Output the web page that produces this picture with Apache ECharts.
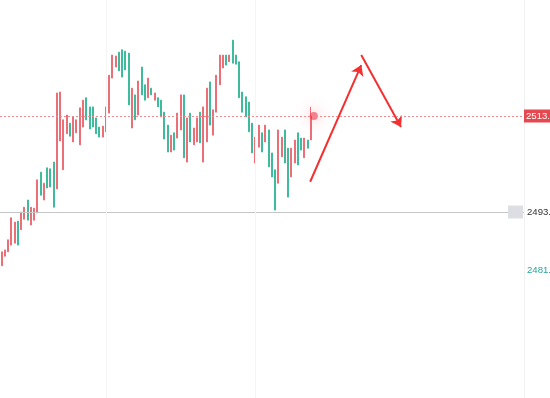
<!DOCTYPE html>
<html>
<head>
<meta charset="utf-8">
<script src="https://cdn.jsdelivr.net/npm/echarts@6/dist/echarts.min.js"></script>
<style>html,body{margin:0;padding:0;background:#fff;}#c{width:550px;height:398px;}</style>
</head>
<body>
<div id="c"></div>
<script>
// ---- data ----
const opens = [2481.8,2483.8,2484.7,2486.1,2486.5,2491.1,2489.3,2491.5,2495.5,2490.3,
  2491.3,2492.8,2501.3,2495.5,2502.2,2502.0,2503.4,2497.8,2507.8,2501.8,
  2509.3,2511.5,2507.6,2509.5,2507.0,2510.7,2516.8,2514.9,2514.9,2512.6,
  2510.7,2508.6,2509.7,2513.6,2520.9,2523.2,2526.3,2526.8,2526.5,2526.1,
  2510.5,2517.4,2513.2,2523.2,2519.5,2516.8,2518.8,2516.3,2516.8,2516.3,
  2513.8,2511.1,2505.5,2509.5,2508.4,2510.1,2517.4,2503.4,2513.6,2507.0,
  2507.6,2513.8,2503.4,2507.6,2520.1,2509.0,2513.8,2519.5,2523.0,2525.7,
  2524.3,2528.8,2525.7,2524.3,2518.0,2517.0,2515.9,2511.5,2503.2,2506.5,
  2509.5,2507.6,2510.1,2505.3,2501.8,2499.0,2504.5,2510.1,2506.3,2500.3,
  2503.2,2509.5,2508.4,2504.3,2508.0,2508.0];
const closes = [2484.7,2485.1,2487.2,2491.8,2490.9,2486.1,2493.0,2494.0,2491.3,2494.0,
  2493.8,2499.7,2496.5,2499.0,2498.0,2498.2,2494.0,2517.8,2518.0,2512.2,
  2513.2,2508.8,2512.8,2512.2,2514.7,2516.3,2512.2,2510.3,2510.7,2509.3,
  2508.6,2510.9,2514.9,2521.5,2525.7,2525.5,2522.4,2521.1,2522.6,2515.3,
  2518.8,2512.2,2520.3,2517.4,2516.3,2520.9,2517.4,2517.8,2514.9,2512.8,
  2508.2,2505.5,2509.0,2505.9,2513.6,2517.4,2504.3,2512.6,2507.6,2510.5,
  2512.6,2507.4,2514.9,2518.8,2511.1,2514.3,2521.5,2525.7,2525.7,2523.6,
  2525.7,2524.0,2523.8,2516.8,2513.8,2512.8,2509.7,2505.3,2508.6,2511.1,
  2505.5,2511.1,2502.4,2500.3,2493.4,2510.1,2508.6,2503.2,2496.1,2506.3,
  2508.0,2502.8,2505.9,2508.4,2506.3,2513.0];
const lows = [2481.8,2483.8,2484.7,2486.1,2486.5,2486.1,2489.3,2491.5,2491.3,2490.3,
  2491.3,2492.8,2496.5,2495.5,2498.0,2498.2,2494.0,2497.8,2507.8,2501.8,
  2509.3,2508.8,2507.6,2509.5,2507.0,2510.7,2512.2,2510.3,2510.7,2509.3,
  2508.6,2508.6,2509.7,2513.6,2520.9,2523.2,2522.4,2521.1,2522.6,2515.3,
  2510.5,2512.2,2513.2,2517.4,2516.3,2516.8,2517.4,2516.3,2514.9,2512.8,
  2508.2,2505.5,2505.5,2505.9,2508.4,2510.1,2504.3,2503.4,2507.6,2507.0,
  2507.6,2507.4,2503.4,2507.6,2511.1,2509.0,2513.8,2519.5,2523.0,2523.6,
  2524.3,2524.0,2523.8,2516.8,2513.8,2512.8,2509.7,2505.3,2503.2,2506.5,
  2505.5,2507.6,2502.4,2500.3,2493.4,2499.0,2504.5,2503.2,2496.1,2500.3,
  2503.2,2502.8,2505.9,2504.3,2506.3,2508.0];
const highs = [2484.7,2485.1,2487.2,2491.8,2490.9,2491.1,2493.0,2494.0,2495.5,2494.0,
  2493.8,2499.7,2501.3,2499.0,2502.2,2502.0,2503.4,2517.8,2518.0,2512.2,
  2513.2,2511.5,2512.8,2512.2,2514.7,2516.3,2516.8,2514.9,2514.9,2512.6,
  2510.7,2510.9,2514.9,2521.5,2525.7,2525.5,2526.3,2526.8,2526.5,2526.1,
  2518.8,2517.4,2520.3,2523.2,2519.5,2520.9,2518.8,2517.8,2516.8,2516.3,
  2513.8,2511.1,2509.0,2509.5,2513.6,2517.4,2517.4,2512.6,2513.6,2510.5,
  2512.6,2513.8,2514.9,2518.8,2520.1,2514.3,2521.5,2525.7,2525.7,2525.7,
  2525.7,2528.8,2525.7,2524.3,2518.0,2517.0,2515.9,2511.5,2508.6,2511.1,
  2509.5,2511.1,2510.1,2505.3,2501.8,2510.1,2508.6,2510.1,2506.3,2506.3,
  2508.0,2509.5,2508.4,2508.4,2508.0,2514.9];
const slotCount = 161;                 // visible candle slots on the time axis
const categories = Array.from({length: slotCount}, (_, i) => String(i + 1));
const lastPrice = 2513.0;
const levelGrey = 2493.0;
const levelLow = 2480.9;
const priceLabels = ['2513.00', '2493.00', '2481.00'];
const gridIndices = [32, 78];
const arrowUp = [[95.3, 2499.3], [111.0, 2523.6]];
const arrowDown = [[111.0, 2525.7], [123.2, 2510.7]];

// ---- chart ----
const RED = '#ec6f78', TEAL = '#3dbb9c';
const FONT = 'Liberation Sans';
const candles = opens.map((o, i) => [o, closes[i], lows[i], highs[i]]);
const chart = echarts.init(document.getElementById('c'), null, {renderer: 'canvas'});
chart.setOption({
  animation: false,
  backgroundColor: '#ffffff',
  grid: {left: -1, right: 26, top: 0, bottom: 0, containLabel: false},
  xAxis: [
    {type: 'category', data: categories, boundaryGap: true,
     axisLine: {show: false}, axisTick: {show: false}, axisLabel: {show: false}, splitLine: {show: false}},
    {type: 'value', min: 0, max: slotCount, show: false}
  ],
  yAxis: {
    type: 'value', position: 'right', min: 2454.25, max: 2537.1667, scale: true,
    axisLine: {show: true, onZero: false, lineStyle: {color: '#f1f1f1'}}, axisTick: {show: false},
    axisLabel: {show: false}, splitLine: {show: false}
  },
  series: [
    {
      type: 'candlestick', xAxisIndex: 0, data: candles, barWidth: 1.5,
      itemStyle: {color: RED, color0: TEAL, borderColor: RED, borderColor0: TEAL, borderWidth: 1},
      markLine: {
        silent: true, symbol: ['none', 'none'], animation: false,
        data: [
          {yAxis: lastPrice, lineStyle: {color: '#f08a8f', type: [2, 2], width: 1},
           label: {show: true, position: 'end', distance: 0, formatter: priceLabels[0], color: '#fff',
                   backgroundColor: '#e5484f', padding: [2, 2, 1, 2], fontSize: 9.6, fontFamily: FONT}},
          {yAxis: levelGrey,
           lineStyle: {color: '#c6c6c6', type: 'solid', width: 1},
           label: {show: true, position: 'end', distance: -16, formatter: '{b|}{t|' + priceLabels[1] + '}',
                   rich: {b: {width: 15, height: 13, backgroundColor: '#dcdee3'},
                          t: {color: '#333', fontSize: 9.6, fontFamily: FONT, padding: [0, 0, 0, 4]}}}},
          {yAxis: levelLow, lineStyle: {color: 'rgba(0,0,0,0)'},
           label: {show: true, position: 'end', distance: 3, formatter: priceLabels[2], color: '#26a69a',
                   fontSize: 9.6, fontFamily: FONT}},
          {xAxis: gridIndices[0], lineStyle: {color: '#f5f5f5', type: 'solid', width: 1}, label: {show: false}},
          {xAxis: gridIndices[1], lineStyle: {color: '#f5f5f5', type: 'solid', width: 1}, label: {show: false}}
        ]
      }
    },
    {
      type: 'scatter', xAxisIndex: 0, data: [[opens.length - 1, lastPrice]],
      symbolSize: 8, symbolOffset: [3, 0],
      itemStyle: {color: 'rgba(240,54,74,0.75)', shadowBlur: 14, shadowColor: 'rgba(240,54,74,0.9)'}
    },
    {
      type: 'lines', coordinateSystem: 'cartesian2d', xAxisIndex: 1, yAxisIndex: 0,
      symbol: ['none', 'arrow'], symbolSize: [10, 10],
      lineStyle: {color: '#f42f2f', width: 2, opacity: 1},
      data: [{coords: arrowUp}, {coords: arrowDown}]
    }
  ]
});
</script>
</body>
</html>
